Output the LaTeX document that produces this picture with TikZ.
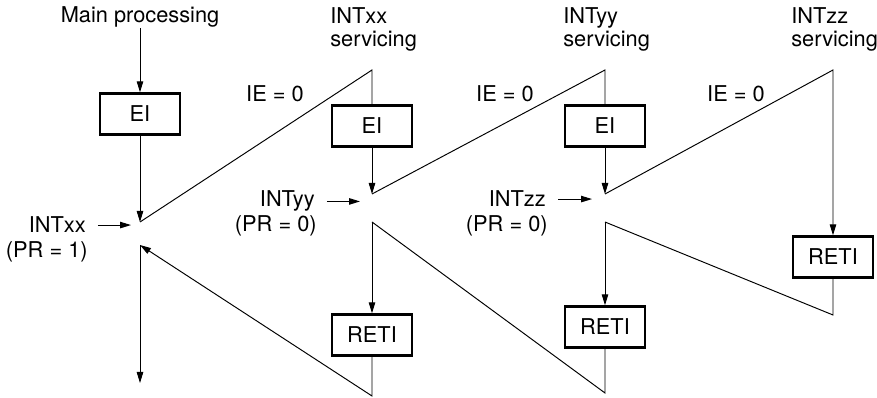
\documentclass[tikz,border=0pt]{standalone}
\usepackage{fontspec}
\setmainfont{TeX Gyre Heros}
\usetikzlibrary{arrows.meta,positioning,calc}

\begin{document}
\begin{tikzpicture}[x=.02cm,y=-.02cm,
  routine/.style={draw,line width=1.4pt,minimum width=1.6cm,
    minimum height=.82cm,inner sep=0pt,
    font=\fontsize{12.4}{13.6}\selectfont},
  caption/.style={inner sep=0pt,align=left,
    font=\fontsize{12.4}{13.6}\selectfont},
  flow/.style={line width=.55pt},
  handoff/.style={flow,-{Triangle[length=2.2mm,width=1.3mm]}}
]
% One unit is one pixel of the 877 x 398 frame.
\useasboundingbox (0,0) rectangle (877,398);

% main program
\node[caption,anchor=base] (main) at (140,23) {Main processing};
\node[routine] (main-ei) at (140,114) {EI};
\coordinate (main-in) at (140,222);
\coordinate (main-out) at (140,245);
\coordinate (main-exit) at (140,383);
\node[caption,anchor=base east] (xx-req) at (86,233) {INTxx};
\node[caption,anchor=base east] (xx-pr) at ($(xx-req.base east)+(2,25)$) {(PR = 1)};

% INTxx
\node[caption,anchor=base west] (xx-title) at (330,47) {INTxx\\servicing};
\node[caption,anchor=base] (xx-mask) at (275,102) {IE = 0};
\node[routine] (xx-ei) at (372,126) {EI};
\node[routine] (xx-reti) at (372,335) {RETI};
\coordinate (xx-top) at (372,70);
\coordinate (xx-in) at (372,194);
\coordinate (xx-out) at (372,222);
\coordinate (xx-bottom) at (372,396);
\node[caption,anchor=base east] (yy-req) at (315,207) {INTyy};
\node[caption,anchor=base east] (yy-pr) at ($(yy-req.base east)+(2,25)$) {(PR = 0)};

% INTyy
\node[caption,anchor=base west] (yy-title) at (563,47) {INTyy\\servicing};
\node[caption,anchor=base] (yy-mask) at (505,102) {IE = 0};
\node[routine] (yy-ei) at (605,126) {EI};
\node[routine] (yy-reti) at (605,327) {RETI};
\coordinate (yy-top) at (605,70);
\coordinate (yy-in) at (605,194);
\coordinate (yy-out) at (605,222);
\coordinate (yy-bottom) at (605,393);
\node[caption,anchor=base east] (zz-req) at (546,207) {INTzz};
\node[caption,anchor=base east] (zz-pr) at ($(zz-req.base east)+(2,25)$) {(PR = 0)};

% INTzz
\node[caption,anchor=base west] (zz-title) at (791,47) {INTzz\\servicing};
\node[caption,anchor=base] (zz-mask) at (736,102) {IE = 0};
\node[routine] (zz-reti) at (833,257) {RETI};
\coordinate (zz-top) at (833,70);
\coordinate (zz-bottom) at (833,315);

\draw[handoff] (main) -- (main-ei);
\draw[handoff] (main-ei) -- (main-in);
\draw[flow] (main-in) -- (xx-top) -- (xx-ei);
\draw[handoff] (xx-ei) -- (xx-in);
\draw[flow] (xx-in) -- (yy-top) -- (yy-ei);
\draw[handoff] (yy-ei) -- (yy-in);
\draw[handoff] (yy-in) -- (zz-top) -- (zz-reti);
\draw[flow] (zz-reti) -- (zz-bottom) -- (yy-out);
\draw[handoff] (yy-out) -- (yy-reti);
\draw[flow] (yy-reti) -- (yy-bottom) -- (xx-out);
\draw[handoff] (xx-out) -- (xx-reti);
\draw[handoff] (xx-reti) -- (xx-bottom) -- (main-out);
\draw[handoff] (main-out) -- (main-exit);

\draw[handoff,shorten <=.24cm,shorten >=.18cm] (xx-req.east) -- (xx-req.east -| main-in);
\draw[handoff,shorten <=.24cm,shorten >=.24cm] (yy-req.east) -- (yy-req.east -| xx-in);
\draw[handoff,shorten <=.24cm,shorten >=.26cm] (zz-req.east) -- (zz-req.east -| yy-in);
\end{tikzpicture}
\end{document}
